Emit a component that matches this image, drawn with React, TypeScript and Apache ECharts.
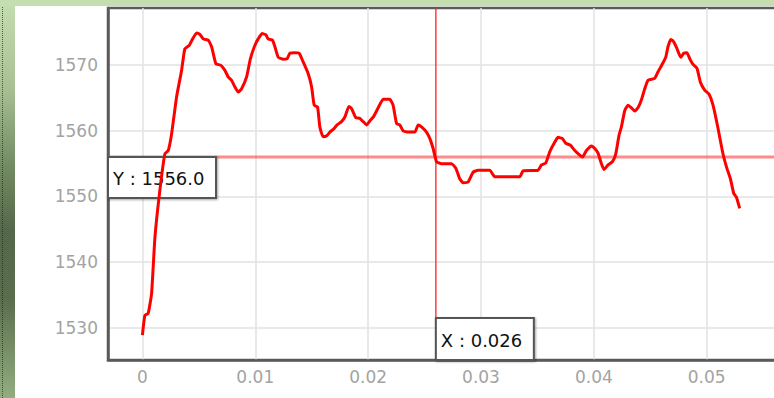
import React, { useEffect, useRef } from "react";
import * as echarts from "echarts";

const times = [
  0.0, 0.00022, 0.00051, 0.00081, 0.00111, 0.00155, 0.00199, 0.00229, 0.00259, 0.00303,
  0.00347, 0.00376, 0.00415, 0.00445, 0.0048, 0.00509, 0.00539, 0.00583, 0.00613, 0.00651,
  0.00693, 0.00731, 0.0076, 0.0079, 0.00819, 0.00849, 0.00879, 0.00923, 0.00957, 0.00996,
  0.01026, 0.01061, 0.01094, 0.01114, 0.01153, 0.01174, 0.01203, 0.01247, 0.01283, 0.01306,
  0.01351, 0.01389, 0.01424, 0.01469, 0.01499, 0.01522, 0.01552, 0.01572, 0.01601, 0.01637,
  0.01661, 0.01696, 0.01725, 0.01764, 0.01794, 0.01829, 0.01853, 0.01891, 0.01926, 0.01956,
  0.01986, 0.02015, 0.0205, 0.02089, 0.02133, 0.02192, 0.02221, 0.02252, 0.02281, 0.0231,
  0.02354, 0.02414, 0.02443, 0.02473, 0.02517, 0.02547, 0.02576, 0.02606, 0.0265, 0.02739,
  0.02777, 0.02812, 0.02841, 0.02886, 0.0293, 0.02974, 0.03078, 0.03122, 0.03344, 0.03373,
  0.03506, 0.03536, 0.03574, 0.03609, 0.03654, 0.03683, 0.03722, 0.03751, 0.03793, 0.03831,
  0.03875, 0.03899, 0.03934, 0.03979, 0.04008, 0.04037, 0.04067, 0.0409, 0.04126, 0.04165,
  0.04194, 0.04223, 0.04244, 0.04274, 0.04303, 0.04333, 0.04362, 0.04391, 0.04421, 0.04451,
  0.0448, 0.04539, 0.04569, 0.04608, 0.04637, 0.04657, 0.04681, 0.04702, 0.04732, 0.0477,
  0.04796, 0.04825, 0.04849, 0.04879, 0.04914, 0.04944, 0.04982, 0.0502, 0.05056, 0.051,
  0.05144, 0.05175, 0.0521, 0.05239, 0.05263, 0.05292,
];

const values = [
  1528.9, 1531.9, 1532.2, 1535.2, 1543.8, 1551.0, 1556.5, 1557.0, 1559.6, 1565.2,
  1569.2, 1572.5, 1573.0, 1574.0, 1574.9, 1574.7, 1574.0, 1573.8, 1572.8, 1570.2,
  1570.0, 1569.2, 1568.2, 1567.7, 1566.7, 1565.9, 1566.4, 1568.2, 1571.0, 1573.0,
  1574.0, 1574.8, 1574.6, 1574.0, 1573.8, 1572.8, 1571.2, 1570.9, 1571.0, 1571.8,
  1571.9, 1571.8, 1570.5, 1568.7, 1566.7, 1563.9, 1563.6, 1560.6, 1559.1, 1559.3,
  1559.8, 1560.3, 1560.9, 1561.4, 1562.1, 1563.7, 1563.4, 1562.0, 1561.9, 1561.4,
  1560.9, 1561.5, 1562.2, 1563.5, 1564.8, 1564.8, 1563.9, 1561.1, 1560.9, 1560.0,
  1559.8, 1559.8, 1560.9, 1560.6, 1559.8, 1558.8, 1557.3, 1555.3, 1555.0, 1555.0,
  1554.3, 1552.7, 1552.1, 1552.2, 1553.7, 1554.0, 1554.0, 1553.0, 1553.0, 1553.9,
  1554.0, 1554.8, 1555.1, 1556.8, 1558.3, 1559.0, 1558.8, 1558.1, 1557.8, 1557.0,
  1556.3, 1556.0, 1557.0, 1557.7, 1557.3, 1556.6, 1555.0, 1554.1, 1554.8, 1555.3,
  1556.5, 1559.3, 1560.6, 1563.1, 1563.9, 1563.5, 1563.0, 1563.5, 1564.7, 1566.4,
  1567.7, 1568.0, 1569.0, 1570.2, 1571.2, 1572.8, 1573.9, 1573.7, 1572.7, 1571.2,
  1571.8, 1571.9, 1571.0, 1570.1, 1569.5, 1567.4, 1566.2, 1565.6, 1563.9, 1560.4,
  1556.5, 1554.5, 1552.7, 1550.5, 1549.9, 1548.2,
];

const xTicks = [0, 0.01, 0.02, 0.03, 0.04, 0.05];
const yTicks = [1530, 1540, 1550, 1560, 1570];
const crossX = 0.026;
const crossY = 1556.0;

export default function App() {
  const ref = useRef<HTMLDivElement>(null);

  useEffect(() => {
    if (!ref.current) return;
    const chart = echarts.init(ref.current, null, { renderer: "svg" });
    const font = "DejaVu Sans";
    chart.setOption({
      animation: false,
      grid: {
        left: 108,
        top: 8,
        right: 23,
        bottom: 38,
        show: true,
        backgroundColor: "#ffffff",
        borderColor: "#5a5a5a",
        borderWidth: 2.5,
      },
      xAxis: {
        type: "value",
        min: -0.00305,
        max: 0.058,
        axisLine: { show: true, onZero: false, lineStyle: { color: "#5a5a5a", width: 2.5 } },
        axisTick: { show: false, customValues: xTicks },
        splitLine: { show: true, lineStyle: { color: "#e2e2e2", width: 1.5 } },
        axisLabel: {
          customValues: xTicks,
          color: "#a3a3a3",
          fontSize: 17,
          fontFamily: font,
          margin: 8,
          formatter: (v: number) => String(v),
        },
      },
      yAxis: {
        type: "value",
        min: 1525.1,
        max: 1578.7,
        axisLine: { show: true, onZero: false, lineStyle: { color: "#5a5a5a", width: 2.5 } },
        axisTick: { show: false, customValues: yTicks },
        splitLine: { show: true, lineStyle: { color: "#e2e2e2", width: 1.5 } },
        axisLabel: {
          customValues: yTicks,
          color: "#a3a3a3",
          fontSize: 17,
          fontFamily: font,
          margin: 10,
          formatter: (v: number) => String(v),
        },
      },
      series: [
        {
          type: "line",
          data: times.map((t, i) => [t, values[i]]),
          showSymbol: false,
          symbol: "none",
          smooth: 0.15,
          lineStyle: { color: "#ff0000", width: 3 },
          z: 5,
        },
      ],
    });

    const p = chart.convertToPixel({ gridIndex: 0 }, [crossX, crossY]) as number[];
    const origin = chart.convertToPixel({ gridIndex: 0 }, [-0.00305, 1525.1]) as number[];
    const topRight = chart.convertToPixel({ gridIndex: 0 }, [0.058, 1578.7]) as number[];
    const left = origin[0];
    const bottom = origin[1];
    const top = topRight[1];
    const right = topRight[0];
    const yBoxW = 108;
    const yBoxH = 41;
    const xBoxW = 98;
    const xBoxH = 42;

    chart.setOption({
      graphic: [
        {
          type: "line",
          z: 3,
          shape: { x1: left, y1: p[1], x2: right, y2: p[1] },
          style: { stroke: "rgba(255,60,60,0.6)", lineWidth: 3 },
        },
        {
          type: "line",
          z: 3,
          shape: { x1: p[0], y1: top, x2: p[0], y2: bottom },
          style: { stroke: "rgba(255,40,40,0.9)", lineWidth: 1.5 },
        },
        {
          type: "rect",
          z: 4,
          shape: { x: left, y: p[1], width: yBoxW, height: yBoxH },
          style: {
            fill: "#ffffff",
            stroke: "#555555",
            lineWidth: 2,
            shadowBlur: 2,
            shadowOffsetX: 1,
            shadowOffsetY: 1,
            shadowColor: "rgba(0,0,0,0.35)",
          },
        },
        {
          type: "text",
          z: 4,
          x: left + 5,
          y: p[1] + yBoxH / 2 + 1,
          style: {
            text: `Y : ${crossY.toFixed(1)}`,
            fill: "#111111",
            fontSize: 18,
            fontFamily: font,
            verticalAlign: "middle",
            align: "left",
          },
        },
        {
          type: "rect",
          z: 4,
          shape: { x: p[0], y: bottom - xBoxH, width: xBoxW, height: xBoxH },
          style: {
            fill: "#ffffff",
            stroke: "#555555",
            lineWidth: 2,
            shadowBlur: 2,
            shadowOffsetX: 1,
            shadowOffsetY: 1,
            shadowColor: "rgba(0,0,0,0.35)",
          },
        },
        {
          type: "text",
          z: 4,
          x: p[0] + 5,
          y: bottom - xBoxH / 2 + 1,
          style: {
            text: `X : ${crossX.toFixed(3)}`,
            fill: "#111111",
            fontSize: 18,
            fontFamily: font,
            verticalAlign: "middle",
            align: "left",
          },
        },
      ],
    });

    return () => {
      chart.dispose();
    };
  }, []);

  return (
    <div
      style={{
        position: "fixed",
        left: 0,
        top: 0,
        width: 774,
        height: 398,
        overflow: "hidden",
        background: "#ffffff",
      }}
    >
      <div ref={ref} style={{ position: "absolute", left: 0, top: 0, width: 820, height: 398 }} />
      <div
        style={{
          position: "absolute",
          left: 0,
          top: 0,
          width: 15,
          height: 398,
          background:
            "linear-gradient(to bottom, #c6ddb2 0%, #a8c093 22%, #728a62 42%, #55674a 58%, #5a6d4d 75%, #93ad80 100%)",
        }}
      />
      <div
        style={{
          position: "absolute",
          left: 2,
          top: 0,
          width: 0,
          height: 398,
          borderLeft: "1px dotted rgba(30,40,25,0.7)",
        }}
      />
      <div
        style={{
          position: "absolute",
          left: 0,
          top: 0,
          width: 774,
          height: 6,
          background: "#c4deb0",
        }}
      />
    </div>
  );
}
